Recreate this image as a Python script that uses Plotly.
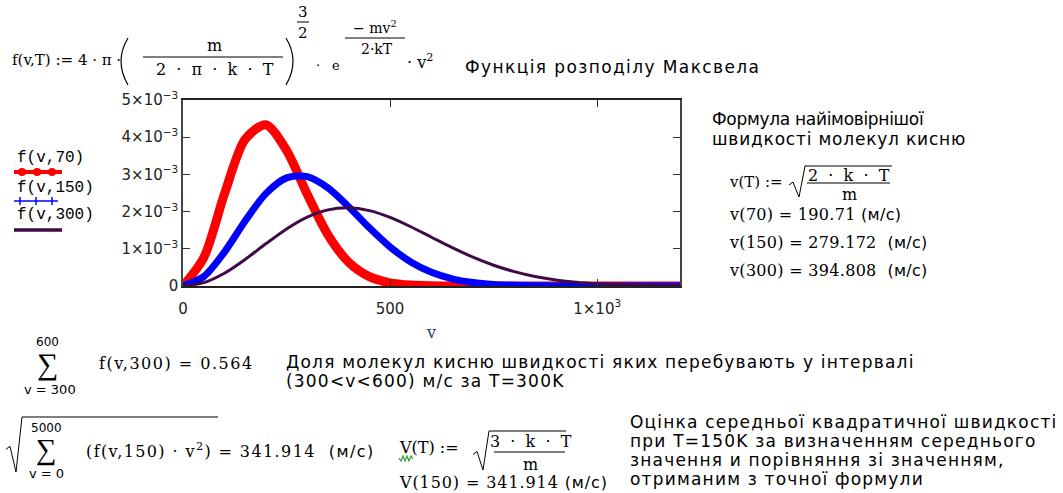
import plotly.graph_objects as go

# ---- data ----
v = [0, 50, 100, 150, 200, 250, 300, 350, 400, 450, 500, 550, 600, 650, 700, 750,
     800, 850, 900, 950, 1000, 1050, 1100, 1150, 1200]
f70 = [0, 0.759e-3, 2.472e-3, 3.944e-3, 4.333e-3, 3.648e-3, 2.466e-3, 1.374e-3, 0.639e-3,
       0.252e-3, 0.084e-3, 0.024e-3, 0.006e-3, 0.001e-3, 0, 0, 0, 0, 0, 0, 0, 0, 0, 0, 0]
f150 = [0, 0.251e-3, 0.912e-3, 1.749e-3, 2.484e-3, 2.907e-3, 2.942e-3, 2.639e-3, 2.131e-3,
        1.563e-3, 1.049e-3, 0.647e-3, 0.368e-3, 0.194e-3, 0.095e-3, 0.043e-3, 0.018e-3,
        0.007e-3, 0.003e-3, 0.001e-3, 0, 0, 0, 0, 0]
f300 = [0, 0.090e-3, 0.344e-3, 0.714e-3, 1.135e-3, 1.535e-3, 1.853e-3, 2.047e-3, 2.102e-3,
        2.026e-3, 1.844e-3, 1.593e-3, 1.311e-3, 1.030e-3, 0.775e-3, 0.559e-3, 0.387e-3,
        0.257e-3, 0.164e-3, 0.101e-3, 0.060e-3, 0.034e-3, 0.019e-3, 0.010e-3, 0.005e-3]
x_tickvals = [0, 500, 1000]
x_ticktext = ["0", "500", "1×10<sup>3</sup>"]
y_tickvals = [0, 1e-3, 2e-3, 3e-3, 4e-3, 5e-3]
y_ticktext = ["0", "1×10<sup>−3</sup>", "2×10<sup>−3</sup>", "3×10<sup>−3</sup>",
              "4×10<sup>−3</sup>", "5×10<sup>−3</sup>"]

W, H = 1063, 493
L, R, T, B = 183, 680, 100, 286
SERIF = "DejaVu Serif"
SANS = "DejaVu Sans"
MONO = "Liberation Mono"


def px(x):
    return (x - L) / (R - L)


def py(y):
    return (B - y) / (B - T)


def sp(text, ls=0, family=None):
    st = []
    if ls:
        st.append(f"letter-spacing:{ls}px")
    if family:
        st.append(f"font-family:{family}")
    if not st:
        return text
    return f'<span style="{";".join(st)}">{text}</span>'


fig = go.Figure()
fig.add_trace(go.Scatter(x=v, y=f70, mode="lines", line=dict(color="#ff0000", width=9, shape="spline", smoothing=0.8), name="f(v,70)"))
fig.add_trace(go.Scatter(x=v, y=f150, mode="lines", line=dict(color="#0000ff", width=7, shape="spline", smoothing=0.8), name="f(v,150)"))
fig.add_trace(go.Scatter(x=v, y=f300, mode="lines", line=dict(color="#3f0a45", width=3, shape="spline", smoothing=0.8), name="f(v,300)"))

ann = []


def txt(x, y, text, size=15, family=SERIF, xanchor="left", color="black"):
    ann.append(dict(x=px(x), y=py(y), xref="paper", yref="paper", text=text, showarrow=False,
                    xanchor=xanchor, yanchor="middle", font=dict(size=size, family=family, color=color)))


shapes = []


def line(x0, y0, x1, y1, color="black", width=1):
    shapes.append(dict(type="line", xref="paper", yref="paper", x0=px(x0), y0=py(y0), x1=px(x1), y1=py(y1),
                       line=dict(color=color, width=width)))


def path(points, color="black", width=1):
    d = "M " + " L ".join(f"{px(a):.5f},{py(b):.5f}" for a, b in points)
    shapes.append(dict(type="path", xref="paper", yref="paper", path=d, line=dict(color=color, width=width)))


def qpath(x0, y0, cx, cy, x1, y1, width=1.2):
    d = f"M {px(x0):.5f},{py(y0):.5f} Q {px(cx):.5f},{py(cy):.5f} {px(x1):.5f},{py(y1):.5f}"
    shapes.append(dict(type="path", xref="paper", yref="paper", path=d, line=dict(color="black", width=width)))


def sqrt_sign(x0, ytop, ybot, xend):
    ymid = ytop + 0.55 * (ybot - ytop)
    path([(x0, ymid + 2), (x0 + 4, ymid - 1), (x0 + 10, ybot), (x0 + 16, ytop), (xend, ytop)], width=1)


NB = "&nbsp;"
MS = "(м/с)"

# ---- top formula ----
txt(10, 60, "f(v,T) := 4 · π ·", 15)
qpath(128, 38, 114, 61, 128, 85)
txt(214, 45, "m", 16, xanchor="center")
line(143, 57, 283, 57)
txt(215, 70, f"2 {NB}·{NB} π {NB}·{NB} k {NB}·{NB} T", 16, xanchor="center")
qpath(286, 38, 300, 61, 286, 85)
txt(303, 12, "3", 15, xanchor="center")
line(297, 22, 309, 22)
txt(303, 33, "2", 15, xanchor="center")
txt(318, 65, "·", 13, xanchor="center")
txt(336, 66, "e", 13, xanchor="center")
txt(375, 27, "− mv<sup>2</sup>", 14, xanchor="center")
line(345, 38, 405, 38)
txt(377, 49, "2·kT", 14, xanchor="center")
txt(405, 62, "· v<sup>2</sup>", 16)
txt(463, 67, sp("Функція розподілу Максвела", 1.4), 17, SANS)

# ---- legend ----
txt(15, 158, "f(v,70)", 16, MONO)
line(14, 172, 62, 172, "#ff0000", 4)
for cx in (22, 37, 52):
    shapes.append(dict(type="circle", xref="paper", yref="paper", x0=px(cx - 4), x1=px(cx + 4),
                       y0=py(172 - 4), y1=py(172 + 4), fillcolor="#ff0000", line=dict(width=0)))
txt(15, 188, "f(v,150)", 16, MONO)
line(14, 201, 58, 201, "#0000ff", 1.5)
for cx in (20, 36, 52):
    line(cx, 197, cx, 205, "#0000ff", 1.5)
txt(15, 215, "f(v,300)", 16, MONO)
line(14, 230, 62, 230, "#3f0a45", 3.5)

# ---- right panel ----
txt(710, 119, sp("Формула найімовірнішої", -0.3), 17, SANS)
txt(710, 139, sp("швидкості молекул кисню", 0.8), 17, SANS)
txt(727, 182, "v(T) :=", 15)
sqrt_sign(789, 166, 197, 892)
txt(849, 175, f"2 {NB}·{NB} k {NB}·{NB} T", 16, xanchor="center")
line(807, 183, 890, 183)
txt(849, 194, "m", 16, xanchor="center")
txt(727, 214, sp("v(70) = 190.71 ", 0.3) + sp(MS, 0.3, SANS), 16)
txt(727, 242, sp("v(150) = 279.172  ", 0.3) + sp(MS, 0.3, SANS), 16)
txt(727, 270, sp("v(300) = 394.808  ", 0.3) + sp(MS, 0.3, SANS), 16)

# ---- sum over 300..600 ----
txt(47, 342, "600", 12, SANS, xanchor="center")
txt(47, 364, "∑", 30, "Liberation Serif", xanchor="center")
txt(50, 389, "v = 300", 13, SANS, xanchor="center")
txt(97, 363, sp("f(v,300) = 0.564", 1.5), 16)
txt(284, 362, sp("Доля молекул кисню швидкості яких перебувають у інтервалі", 1.2), 17, SANS)
txt(284, 381, sp("(300&lt;v&lt;600) м/с за T=300K", 1.2), 17, SANS)

# ---- rms speed ----
sqrt_sign(6, 417, 472, 218)
txt(46, 428, "5000", 12, SANS, xanchor="center")
txt(46, 449, "∑", 29, "Liberation Serif", xanchor="center")
txt(46, 473, "v = 0", 13, SANS, xanchor="center")
txt(84, 450, sp("(f(v,150) · v<sup>2</sup>) = 341.914  ", 1.4) + sp(MS, 1.4, SANS), 16)
txt(397, 447, "V(T) :=", 16)
path([(399, 458), (401, 461), (403, 456), (405, 461), (407, 456), (409, 461), (411, 456), (413, 459)],
     color="#2aa02a", width=1.2)
sqrt_sign(473, 431, 470, 566)
txt(531, 441, f"3 {NB}·{NB} k {NB}·{NB} T", 16, xanchor="center")
line(494, 452, 565, 452)
txt(530, 464, "m", 16, xanchor="center")
txt(397, 482, sp("V(150) = 341.914 ", 0.9) + sp(MS, 0.9, SANS), 16)
txt(628, 422, sp("Оцінка середньої квадратичної швидкості", 1.2), 17, SANS)
txt(628, 441, sp("при T=150K за визначенням середнього", 1.2), 17, SANS)
txt(628, 460, sp("значення и порівняння зі значенням,", 1.2), 17, SANS)
txt(628, 479, sp("отриманим з точної формули", 1.2), 17, SANS)

fig.update_layout(
    width=W, height=H,
    margin=dict(l=L, r=W - R, t=T, b=H - B, pad=0),
    paper_bgcolor="white", plot_bgcolor="white",
    showlegend=False,
    annotations=ann, shapes=shapes,
    xaxis=dict(range=[0, 1200], tickvals=x_tickvals, ticktext=x_ticktext, ticks="inside", ticklen=7,
               tickcolor="#333", showline=True, linecolor="#222", linewidth=1.5, mirror="ticks",
               showgrid=False, zeroline=False, tickfont=dict(family=SANS, size=15, color="#222"),
               ticklabelstandoff=8,
               title=dict(text="v", font=dict(family=SERIF, size=16), standoff=10)),
    yaxis=dict(range=[0, 5e-3], tickvals=y_tickvals, ticktext=y_ticktext, ticks="inside", ticklen=7,
               tickcolor="#333", showline=True, linecolor="#444", linewidth=1.5, mirror="ticks",
               showgrid=False, zeroline=False, tickfont=dict(family=SANS, size=15, color="#222")),
)

fig.write_html("out.html", config={"displayModeBar": False},
               post_script="document.body.style.margin='0px';document.body.style.overflow='hidden';")
